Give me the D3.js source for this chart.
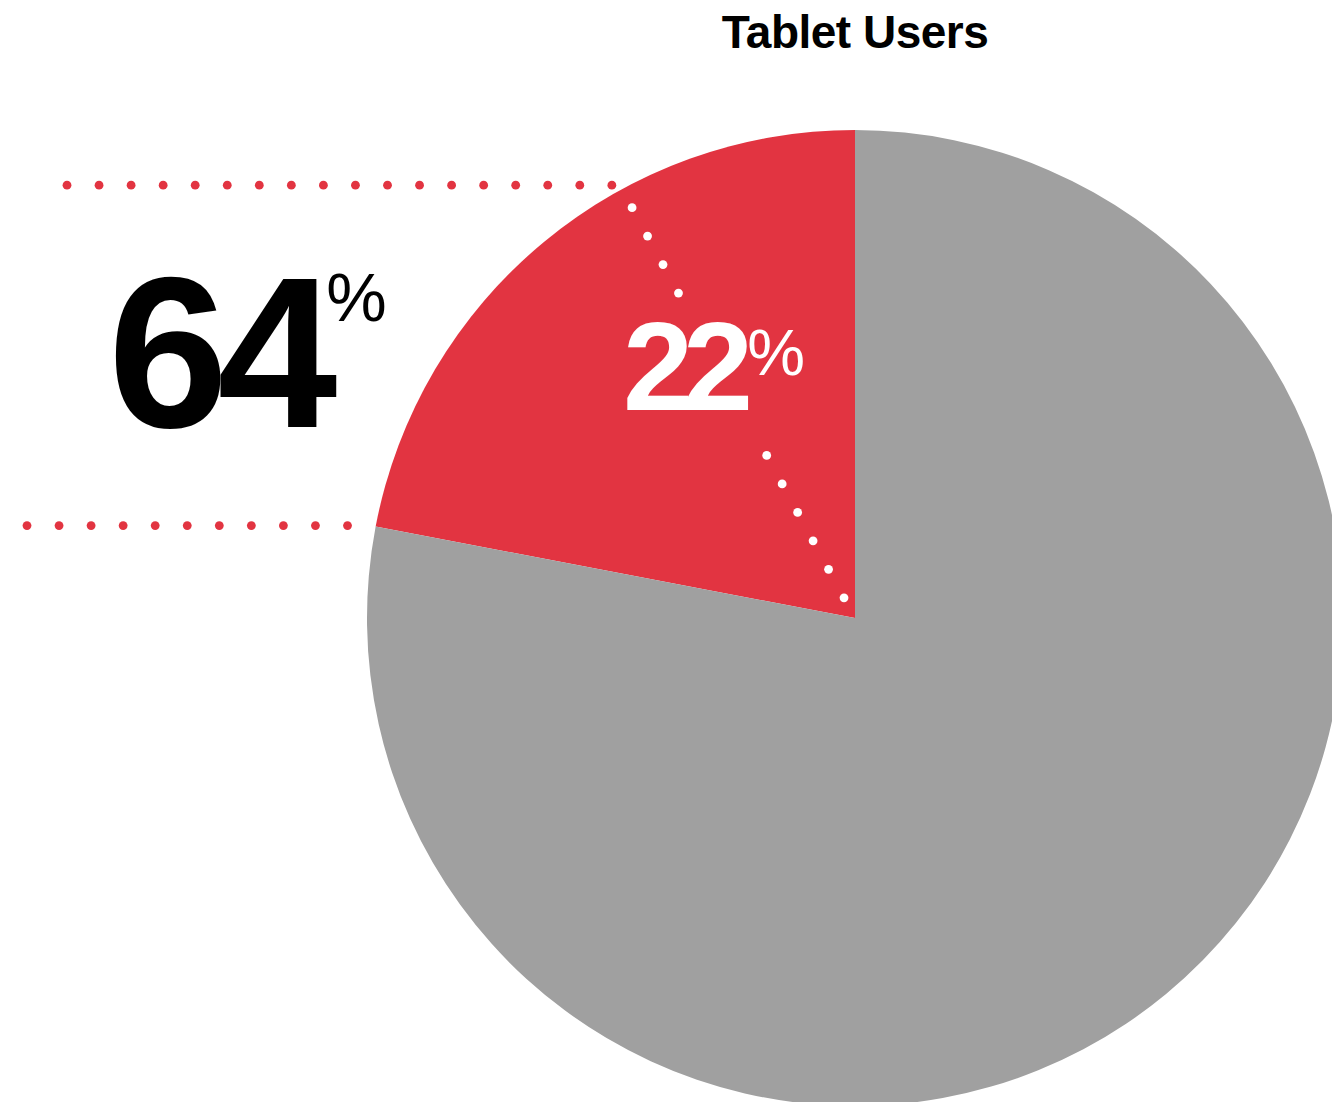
<!DOCTYPE html>
<html>
<head>
<meta charset="utf-8">
<script src="https://cdn.jsdelivr.net/npm/d3@7"></script>
<style>
  html, body { margin: 0; padding: 0; background: #fff; }
  svg { display: block; }
  text { font-family: "Liberation Sans", Arial, Helvetica, sans-serif; }
</style>
</head>
<body>
<svg id="chart" width="1332" height="1102"></svg>
<script>
// Share of all users who use a tablet, and the rest
const segments = ["Tablet users", "Other users"];
const shares = [22, 78];
// Part of the tablet users singled out by the bracket on the left
const highlightShare = 64;
const chartTitle = "Tablet Users";

const W = 1332, H = 1102;
const cx = 855, cy = 618, radius = 488;
const red = "#e23441", grey = "#a0a0a0";

const svg = d3.select("#chart");

// Title
svg.append("text")
  .attr("x", cx).attr("y", 48)
  .attr("text-anchor", "middle")
  .attr("font-size", 46).attr("font-weight", "bold")
  .attr("letter-spacing", -0.5)
  .attr("fill", "#000")
  .text(chartTitle);

// Pie: slices run counter-clockwise from 12 o'clock
const pie = d3.pie().sort(null).startAngle(0).endAngle(-2 * Math.PI);
const arcs = pie(shares);
const arc = d3.arc().innerRadius(0).outerRadius(radius);
const color = d3.scaleOrdinal().domain(segments).range([red, grey]);

const g = svg.append("g").attr("transform", `translate(${cx},${cy})`);
g.selectAll("path.slice")
  .data(arcs)
  .join("path")
  .attr("class", "slice")
  .attr("d", arc)
  .attr("fill", (d, i) => color(segments[i]));

// Angle (radians, negative = counter-clockwise) splitting the tablet slice
const tablet = arcs[0];
const splitAngle = tablet.startAngle + (tablet.endAngle - tablet.startAngle) * (1 - highlightShare / 100);
const edgeAngle = tablet.endAngle;

const polar = (r, a) => [cx + r * Math.sin(a), cy - r * Math.cos(a)];

// White dotted divider inside the tablet slice, broken around the label
const step = 32.4;
function radialDots(r0, r1) {
  const n = Math.floor((r0 - r1) / step + 0.01);
  return d3.range(n + 1).map(k => polar(r0 - k * step, splitAngle));
}
const whiteDots = radialDots(467, 370).concat(radialDots(185, 23));
svg.append("g").selectAll("circle")
  .data(whiteDots)
  .join("circle")
  .attr("cx", d => d[0]).attr("cy", d => d[1])
  .attr("r", 4.4).attr("fill", "#fff");

// Red dotted bracket lines leading out to the left
function rowDots(x0, x1, y) {
  const n = Math.floor((x1 - x0) / 32.05 + 0.01);
  return d3.range(n + 1).map(k => [x0 + k * 32.05, y]);
}
const topOuter = polar(radius, splitAngle);
const botOuter = polar(radius, edgeAngle);
const redDots = rowDots(67, topOuter[0] - 8, topOuter[1] - 4)
  .concat(rowDots(27, botOuter[0] - 20, botOuter[1] - 1));
svg.append("g").selectAll("circle")
  .data(redDots)
  .join("circle")
  .attr("cx", d => d[0]).attr("cy", d => d[1])
  .attr("r", 4.4).attr("fill", red);

// Big value labels
function bigLabel(x, y, value, size, pctSize, pctDx, pctDy, spacing, fill) {
  const t = svg.append("text")
    .attr("x", x).attr("y", y)
    .attr("fill", fill);
  t.append("tspan")
    .attr("font-size", size).attr("font-weight", "bold")
    .attr("letter-spacing", spacing)
    .text(value);
  t.append("tspan")
    .attr("dx", pctDx).attr("dy", pctDy)
    .attr("font-size", pctSize)
    .text("%");
}
bigLabel(108, 427, highlightShare, 216, 68, 0, -106, -11, "#000");
bigLabel(623, 410, shares[0], 126, 65, 4, -35, -10, "#fff");
</script>
</body>
</html>
